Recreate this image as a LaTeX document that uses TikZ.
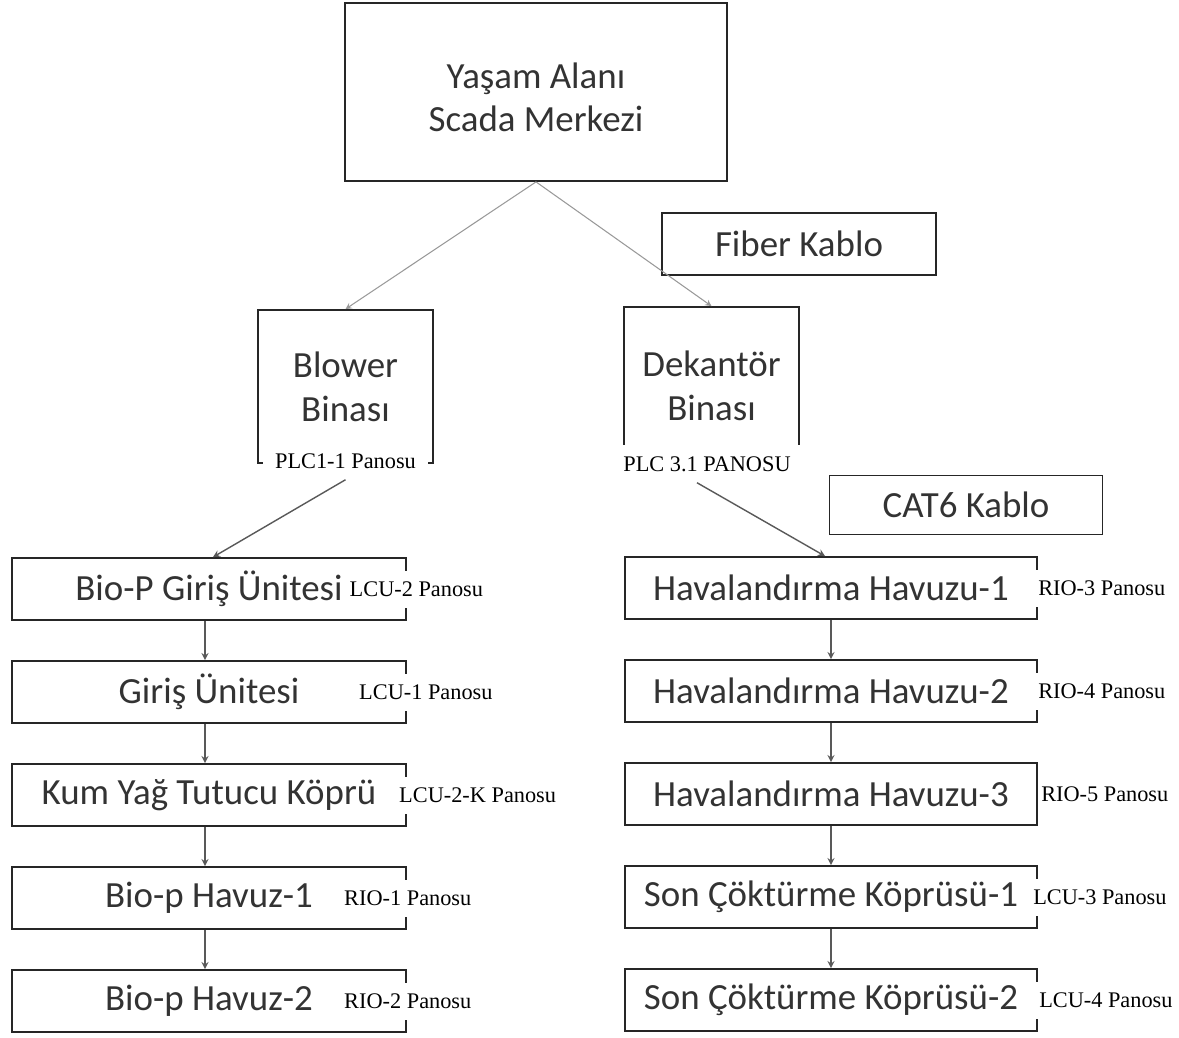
\documentclass[tikz,border=0pt]{standalone}
\usepackage{fontspec}
\setmainfont{Carlito}
\newfontfamily\panofont{Liberation Serif}
\usepackage{tikz}
\usetikzlibrary{arrows}
\usetikzlibrary{positioning}
\tikzstyle{kutu} = [rectangle, draw=black!85, line width=1pt, text=black!80, font=\fontsize{21}{25}\selectfont, align=center, inner sep=0pt]
\tikzstyle{unite} = [kutu, minimum width=7.88cm, minimum height=1.24cm]
\tikzstyle{pano} = [fill=white, text=black, font=\panofont\fontsize{12.7}{14}\selectfont, inner xsep=2pt, inner ysep=0pt, minimum height=0.74cm, anchor=west]
\tikzstyle{arrow} = [->, >=stealth, draw=black!65, line width=0.8pt]
\tikzstyle{fiber} = [->, >=stealth, draw=black!40, line width=0.6pt]

\begin{document}
\begin{tikzpicture}[node distance=2.06cm]
\useasboundingbox (0,0) rectangle (23.58,-20.76);
\node (scada) [kutu, minimum width=7.64cm, minimum height=3.56cm, text height=1.6cm, text depth=0cm] at (10.72,-1.84) {Yaşam Alanı\\Scada Merkezi};
\node (fiber) [kutu, minimum width=5.48cm, minimum height=1.24cm] at (15.98,-4.88) {Fiber Kablo};
\node (blower) [kutu, minimum width=3.5cm, minimum height=3.06cm] at (6.91,-7.73) {Blower\\Binası};
\node (plc1) [pano, anchor=center, minimum width=3.3cm] at ([yshift=0.06cm]blower.south) {PLC1-1 Panosu};
\node (dekantor) [kutu, minimum width=3.5cm, minimum height=3.16cm] at (14.23,-7.72) {Dekantör\\Binası};
\node (plc3) [pano, anchor=center, minimum width=3.7cm] at ([xshift=-0.09cm,yshift=0.04cm]dekantor.south) {PLC 3.1 PANOSU};
\node (cat6) [kutu, minimum width=5.46cm, minimum height=1.18cm] at (19.32,-10.1) {CAT6 Kablo};
% sol kolon
\node (b1) [unite] at (4.18,-11.78) {Bio-P Giriş Ünitesi};
\node (b2) [unite, below of=b1] {Giriş Ünitesi};
\node (b3) [unite, below of=b2] {Kum Yağ Tutucu Köprü};
\node (b4) [unite, below of=b3] {Bio-p Havuz-1};
\node (b5) [unite, below of=b4] {Bio-p Havuz-2};
\node (lcu2) [pano] at ([xshift=-1.22cm]b1.east) {LCU-2 Panosu};
\node (lcu1) [pano] at ([xshift=-1.03cm]b2.east) {LCU-1 Panosu};
\node (lcu2k) [pano] at ([xshift=-0.23cm]b3.east) {LCU-2-K Panosu};
\node (rio1) [pano] at ([xshift=-1.33cm]b4.east) {RIO-1 Panosu};
\node (rio2) [pano] at ([xshift=-1.33cm]b5.east) {RIO-2 Panosu};
% sag kolon
\node (h1) [unite, minimum width=8.24cm] at (16.62,-11.76) {Havalandırma Havuzu-1};
\node (h2) [unite, minimum width=8.24cm, below of=h1] {Havalandırma Havuzu-2};
\node (h3) [unite, minimum width=8.24cm, below of=h2] {Havalandırma Havuzu-3};
\node (s1) [unite, minimum width=8.24cm, below of=h3] {Son Çöktürme Köprüsü-1};
\node (s2) [unite, minimum width=8.24cm, below of=s1] {Son Çöktürme Köprüsü-2};
\node (rio3) [pano] at ([xshift=-0.07cm]h1.east) {RIO-3 Panosu};
\node (rio4) [pano] at ([xshift=-0.07cm]h2.east) {RIO-4 Panosu};
\node (rio5) [pano] at ([xshift=-0.01cm]h3.east) {RIO-5 Panosu};
\node (lcu3) [pano] at ([xshift=-0.17cm]s1.east) {LCU-3 Panosu};
\node (lcu4) [pano] at ([xshift=-0.05cm]s2.east) {LCU-4 Panosu};
% baglantilar
\draw [fiber] (scada.south) -- (blower.north);
\draw [fiber] (scada.south) -- (dekantor.north);
\draw [arrow] (plc1.south) -- ([xshift=0.08cm]b1.north);
\draw [arrow] ([xshift=-0.2cm]plc3.south) -- ([xshift=-0.12cm]h1.north);
\draw [arrow] ([xshift=-0.08cm]b1.south) -- ([xshift=-0.08cm]b2.north);
\draw [arrow] ([xshift=-0.08cm]b2.south) -- ([xshift=-0.08cm]b3.north);
\draw [arrow] ([xshift=-0.08cm]b3.south) -- ([xshift=-0.08cm]b4.north);
\draw [arrow] ([xshift=-0.08cm]b4.south) -- ([xshift=-0.08cm]b5.north);
\draw [arrow] (h1.south) -- (h2.north);
\draw [arrow] (h2.south) -- (h3.north);
\draw [arrow] (h3.south) -- (s1.north);
\draw [arrow] (s1.south) -- (s2.north);
\end{tikzpicture}
\end{document}
